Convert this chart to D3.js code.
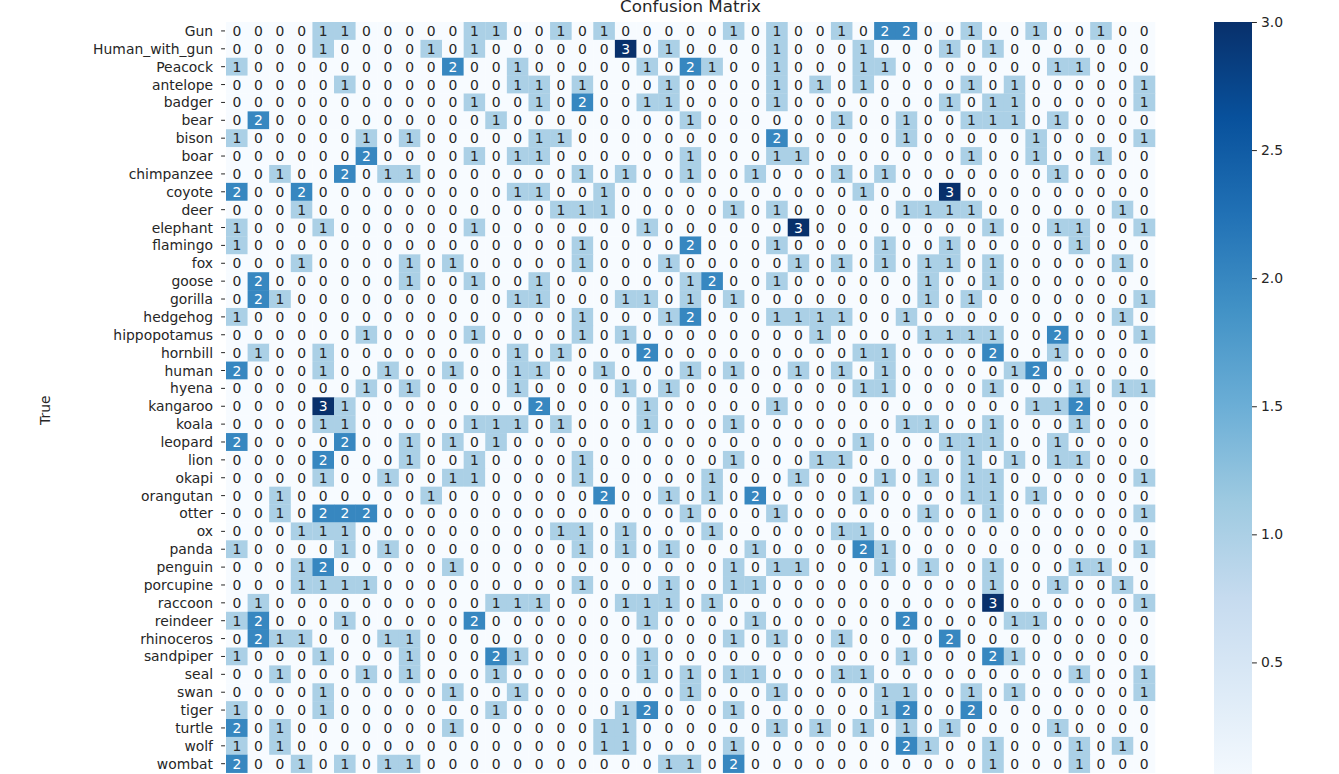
<!DOCTYPE html>
<html><head><meta charset="utf-8">
<script src="https://cdn.jsdelivr.net/npm/d3@7"></script>
<style>html,body{margin:0;padding:0;background:#fff;overflow:hidden}svg{display:block;font-family:"DejaVu Sans",sans-serif}</style>
</head><body>
<svg id="chart" width="1339" height="774"></svg>
<script>
const classes = ["Gun","Human_with_gun","Peacock","antelope","badger","bear","bison","boar","chimpanzee","coyote","deer","elephant","flamingo","fox","goose","gorilla","hedgehog","hippopotamus","hornbill","human","hyena","kangaroo","koala","leopard","lion","okapi","orangutan","otter","ox","panda","penguin","porcupine","raccoon","reindeer","rhinoceros","sandpiper","seal","swan","tiger","turtle","wolf","wombat","zebra"];

const matrix = [
"0 0 0 0 1 1 0 0 0 0 0 1 1 0 0 1 0 1 0 0 0 0 0 1 0 1 0 0 1 0 2 2 0 0 1 0 0 1 0 0 1 0 0",
"0 0 0 0 1 0 0 0 0 1 0 1 0 0 0 0 0 0 3 0 1 0 0 0 0 1 0 0 0 1 0 0 0 1 0 1 0 0 0 0 0 0 0",
"1 0 0 0 0 0 0 0 0 0 2 0 0 1 0 0 0 0 0 1 0 2 1 0 0 1 0 0 0 1 1 0 0 0 0 0 0 0 1 1 0 0 0",
"0 0 0 0 0 1 0 0 0 0 0 0 0 1 1 0 1 0 0 0 1 0 0 0 0 1 0 1 0 1 0 0 0 0 1 0 1 0 0 0 0 0 1",
"0 0 0 0 0 0 0 0 0 0 0 1 0 0 1 0 2 0 0 1 1 0 0 0 0 1 0 0 0 0 0 0 0 1 0 1 1 0 0 0 0 0 1",
"0 2 0 0 0 0 0 0 0 0 0 0 1 0 0 0 0 0 0 0 0 1 0 0 0 0 0 0 1 0 0 1 0 0 1 1 1 0 1 0 0 0 0",
"1 0 0 0 0 0 1 0 1 0 0 0 0 0 1 1 0 0 0 0 0 0 0 0 0 2 0 0 0 0 0 1 0 0 0 0 0 1 0 0 0 0 1",
"0 0 0 0 0 0 2 0 0 0 0 1 0 1 1 0 0 0 0 0 0 1 0 0 0 1 1 0 0 0 0 0 0 0 1 0 0 1 0 0 1 0 0",
"0 0 1 0 0 2 0 1 1 0 0 0 0 0 0 0 1 0 1 0 0 1 0 0 1 0 0 0 1 0 1 0 0 0 0 0 0 0 1 0 0 0 0",
"2 0 0 2 0 0 0 0 0 0 0 0 0 1 1 0 0 1 0 0 0 0 0 0 0 0 0 0 0 1 0 0 0 3 0 0 0 0 0 0 0 0 0",
"0 0 0 1 0 0 0 0 0 0 0 0 0 0 0 1 1 1 0 0 0 0 0 1 0 1 0 0 0 0 0 1 1 1 1 0 0 0 0 0 0 1 0",
"1 0 0 0 1 0 0 0 0 0 0 1 0 0 0 0 0 0 0 1 0 0 0 0 0 0 3 0 0 0 0 0 0 0 0 1 0 0 1 1 0 0 1",
"1 0 0 0 0 0 0 0 0 0 0 0 0 0 0 0 1 0 0 0 0 2 0 0 0 1 0 0 0 0 1 0 0 1 0 0 0 0 0 1 0 0 0",
"0 0 0 1 0 0 0 0 1 0 1 0 0 0 0 0 1 0 0 0 1 0 0 0 0 0 1 0 1 0 1 0 1 1 0 1 0 0 0 0 0 1 0",
"0 2 0 0 0 0 0 0 1 0 0 1 0 0 1 0 0 0 0 0 0 1 2 0 0 1 0 0 0 0 0 0 1 0 0 1 0 0 0 0 0 0 0",
"0 2 1 0 0 0 0 0 0 0 0 0 0 1 1 0 0 0 1 1 0 1 0 1 0 0 0 0 0 0 0 0 1 0 1 0 0 0 0 0 0 0 1",
"1 0 0 0 0 0 0 0 0 0 0 0 0 0 0 0 1 0 0 0 1 2 0 0 0 1 1 1 1 0 0 1 0 0 0 0 0 0 0 0 0 1 0",
"0 0 0 0 0 0 1 0 0 0 0 1 0 0 0 0 1 0 1 0 0 0 0 0 0 0 0 1 0 0 0 0 1 1 1 1 0 0 2 0 0 0 1",
"0 1 0 0 1 0 0 0 0 0 0 0 0 1 0 1 0 0 0 2 0 0 0 0 0 0 0 0 0 1 1 0 0 0 0 2 0 0 1 0 0 0 0",
"2 0 0 0 1 0 0 1 0 0 1 0 0 1 1 0 0 1 0 0 0 1 0 1 0 0 1 0 1 0 1 0 0 0 0 0 1 2 0 0 0 0 0",
"0 0 0 0 0 0 1 0 1 0 0 0 0 1 0 0 0 0 1 0 1 0 0 0 0 0 0 0 0 1 1 0 0 0 0 1 0 0 0 1 0 1 1",
"0 0 0 0 3 1 0 0 0 0 0 0 0 0 2 0 0 0 0 1 0 0 0 0 0 1 0 0 0 0 0 0 0 0 0 0 0 1 1 2 0 0 0",
"0 0 0 0 1 1 0 0 0 0 0 1 1 1 0 1 0 0 0 1 0 0 0 1 0 0 0 0 0 0 0 1 1 0 0 1 0 0 0 1 0 0 0",
"2 0 0 0 0 2 0 0 1 0 1 0 1 0 0 0 0 0 0 0 0 0 0 0 0 0 0 0 0 1 0 0 0 1 1 1 0 0 1 0 0 0 0",
"0 0 0 0 2 0 0 0 1 0 0 1 0 0 0 0 1 0 0 0 0 0 0 1 0 0 0 1 1 0 0 0 0 0 1 0 1 0 1 1 0 0 0",
"0 0 0 0 1 0 0 1 0 0 1 1 0 0 0 0 1 0 0 0 0 0 1 0 0 0 1 0 0 0 1 0 1 0 1 1 0 0 0 0 0 0 1",
"0 0 1 0 0 0 0 0 0 1 0 0 0 0 0 0 0 2 0 0 1 0 1 0 2 0 0 0 0 1 0 0 0 0 1 1 0 1 0 0 0 0 0",
"0 0 1 0 2 2 2 0 0 0 0 0 0 0 0 0 0 0 0 0 0 1 0 0 0 1 0 0 0 0 0 0 1 0 0 1 0 0 0 0 0 0 1",
"0 0 0 1 1 1 0 0 0 0 0 0 0 0 0 1 1 0 1 0 0 0 1 0 0 0 0 0 1 1 0 0 0 0 0 0 0 0 0 0 0 0 0",
"1 0 0 0 0 1 0 1 0 0 0 0 0 0 0 0 1 0 1 0 1 0 0 0 1 0 0 0 0 2 1 0 0 0 0 0 0 0 0 0 0 0 1",
"0 0 0 1 2 0 0 0 0 0 1 0 0 0 0 0 0 0 0 0 0 0 0 1 0 1 1 0 0 0 1 0 1 0 0 1 0 0 0 1 1 0 0",
"0 0 0 1 1 1 1 0 0 0 0 0 0 0 0 0 1 0 0 0 1 0 0 1 1 0 0 0 0 0 0 0 0 0 0 1 0 0 1 0 0 1 0",
"0 1 0 0 0 0 0 0 0 0 0 0 1 1 1 0 0 0 1 1 1 0 1 0 0 0 0 0 0 0 0 0 0 0 0 3 0 0 0 0 0 0 1",
"1 2 0 0 0 1 0 0 0 0 0 2 0 0 0 0 0 0 0 1 0 0 0 0 1 0 0 0 0 0 0 2 0 0 0 0 1 1 0 0 0 0 0",
"0 2 1 1 0 0 0 1 1 0 0 0 0 0 0 0 0 0 0 0 0 0 0 1 0 1 0 0 1 0 0 0 0 2 0 0 0 0 0 0 0 0 0",
"1 0 0 0 1 0 0 0 1 0 0 0 2 1 0 0 0 0 0 1 0 0 0 0 0 0 0 0 0 0 0 1 0 0 0 2 1 0 0 0 0 0 0",
"0 0 1 0 0 0 1 0 1 0 0 0 1 0 0 0 0 0 0 1 0 1 0 1 1 0 0 0 1 1 0 0 0 0 0 0 0 0 0 1 0 0 1",
"0 0 0 0 1 0 0 0 0 0 1 0 0 1 0 0 0 0 0 0 0 1 0 0 0 1 0 0 0 0 1 1 0 0 1 0 1 0 0 0 0 0 1",
"1 0 0 0 1 0 0 0 0 0 0 0 1 0 0 0 0 0 1 2 0 0 0 1 0 0 0 0 0 0 1 2 0 0 2 0 0 0 0 0 0 0 0",
"2 0 1 0 0 0 0 0 0 0 1 0 0 0 0 0 0 1 1 0 0 0 0 0 0 1 0 1 0 1 0 1 0 1 0 0 0 0 1 0 0 0 0",
"1 0 1 0 0 0 0 0 0 0 0 0 0 0 0 0 0 1 1 0 0 0 0 1 0 0 0 0 0 0 0 2 1 0 0 1 0 0 0 1 0 1 0",
"2 0 0 1 0 1 0 1 1 0 0 0 0 0 0 0 0 0 0 0 1 1 0 2 0 0 0 0 0 0 0 0 0 0 0 1 0 0 0 1 0 0 0"
].map(r => r.split(" ").map(Number));

const colorbarTicks = [0.5, 1.0, 1.5, 2.0, 2.5, 3.0];
const blueStops = ["#f7fbff","#deebf7","#c6dbef","#9ecae1","#6baed6","#4292c6","#2171b5","#08519c","#08306b"];
const chartTitle = "Confusion Matrix";
const yTitle = "True";

const svg = d3.select("#chart");
const mLeft = 226, mRight = 1155, mTop = 22, mBottom = 790.5;
const vmin = 0, vmax = 3;

const x = d3.scaleBand().domain(classes).range([mLeft, mRight]).paddingInner(0).paddingOuter(0);
const y = d3.scaleBand().domain(classes).range([mTop, mBottom]).paddingInner(0).paddingOuter(0);
const color = d3.scaleLinear()
  .domain(blueStops.map((_, i) => vmin + (vmax - vmin) * i / (blueStops.length - 1)))
  .range(blueStops).interpolate(d3.interpolateRgb);

const cells = [];
matrix.forEach((row, i) => row.forEach((v, j) => cells.push({r: classes[i], c: classes[j], v})));

const g = svg.append("g");
g.selectAll("rect.cell").data(cells).join("rect")
  .attr("class","cell")
  .attr("x", d => x(d.c)).attr("y", d => y(d.r))
  .attr("width", x.bandwidth() + 0.3).attr("height", y.bandwidth() + 0.3)
  .attr("fill", d => color(d.v));

function lum(c){
  const rgb = d3.rgb(c);
  const f = u => { u/=255; return u <= 0.03928 ? u/12.92 : Math.pow((u+0.055)/1.055, 2.4); };
  return 0.2126*f(rgb.r) + 0.7152*f(rgb.g) + 0.0722*f(rgb.b);
}
g.selectAll("text.ann").data(cells).join("text")
  .attr("class","ann")
  .attr("x", d => x(d.c) + x.bandwidth()/2)
  .attr("y", d => y(d.r) + y.bandwidth()/2)
  .attr("text-anchor","middle").attr("dominant-baseline","central")
  .attr("font-size","13.9px")
  .attr("fill", d => lum(color(d.v)) > 0.408 ? "#262626" : "#ffffff")
  .text(d => d.v);

const rowLabels = classes.slice(0, matrix.length);
const ya = svg.append("g");
ya.selectAll("line").data(rowLabels).join("line")
  .attr("x1", mLeft - 4.9).attr("x2", mLeft - 1)
  .attr("y1", d => y(d) + y.bandwidth()/2).attr("y2", d => y(d) + y.bandwidth()/2)
  .attr("stroke","#262626").attr("stroke-width",1);
ya.selectAll("text").data(rowLabels).join("text")
  .attr("x", mLeft - 13).attr("y", d => y(d) + y.bandwidth()/2)
  .attr("text-anchor","end").attr("dominant-baseline","central")
  .attr("font-size","13.9px").attr("fill","#262626").text(d => d);

svg.append("text").attr("transform", `translate(50,${(mTop+mBottom)/2 + 4}) rotate(-90)`)
  .attr("text-anchor","middle").attr("font-size","13.9px").attr("fill","#262626").text(yTitle);

svg.append("text").attr("x", (mLeft+mRight)/2).attr("y", 11.5)
  .attr("text-anchor","middle").attr("font-size","16.7px").attr("fill","#262626").text(chartTitle);

const cbX = 1214, cbW = 38;
const cy = d3.scaleLinear().domain([vmin, vmax]).range([mBottom, mTop]);
const defs = svg.append("defs");
const grad = defs.append("linearGradient").attr("id","cbgrad").attr("x1",0).attr("x2",0).attr("y1",1).attr("y2",0);
blueStops.forEach((c, i) => grad.append("stop").attr("offset", i/(blueStops.length-1)).attr("stop-color", c));
svg.append("rect").attr("x", cbX).attr("y", mTop).attr("width", cbW).attr("height", mBottom - mTop).attr("fill","url(#cbgrad)");
const cbAxis = d3.axisRight(cy).tickValues(colorbarTicks).tickFormat(d3.format(".1f")).tickSize(4.9).tickPadding(4);
const cba = svg.append("g").attr("transform", `translate(${cbX + cbW},0)`).call(cbAxis);
cba.select(".domain").remove();
cba.selectAll("text").attr("font-size","13.9px").attr("font-family","DejaVu Sans").attr("fill","#262626").attr("dy","0.32em");
cba.selectAll("line").attr("stroke","#262626");
</script>
</body></html>
